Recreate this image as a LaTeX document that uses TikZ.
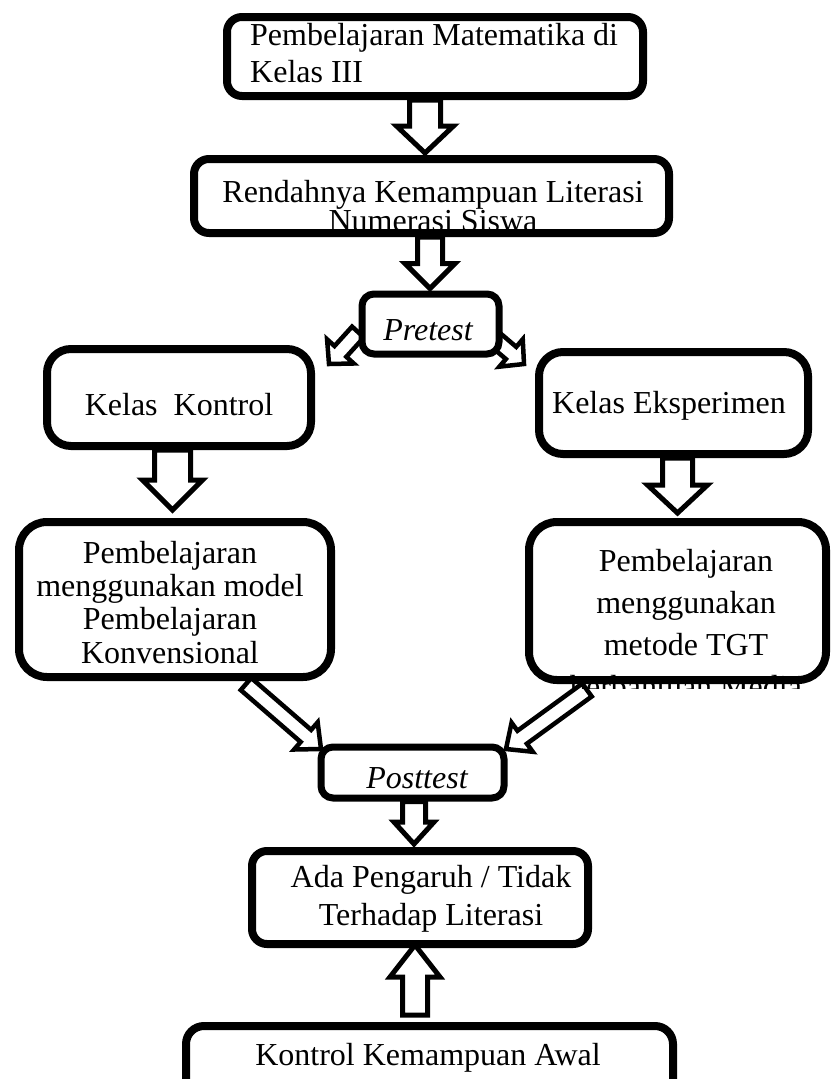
\documentclass[tikz,border=0pt]{standalone}
\usepackage{fontspec}
\setmainfont{Liberation Serif}
\usetikzlibrary{calc,backgrounds}

% block arrow: [style]{tail}{tip}{shaft half}{head half}{head length}
\newcommand{\fatarrow}[6][fat]{%
  \coordinate (fa-b) at ($(#3)!#6pt!(#2)$);
  \draw[#1] ($(#2)!#4pt!90:(#3)$) -- ($(fa-b)!#4pt!90:(#3)$)
    -- ($(fa-b)!#5pt!90:(#3)$) -- (#3) -- ($(fa-b)!#5pt!-90:(#3)$)
    -- ($(fa-b)!#4pt!-90:(#3)$) -- ($(#2)!#4pt!-90:(#3)$) -- cycle;
}

\tikzset{
  box/.style={draw, line width=8pt, fill=white, rounded corners=15pt, inner sep=0pt},
  bigbox/.style={box, rounded corners=28pt},
  smallbox/.style={box, line width=7pt, rounded corners=12pt},
  txt/.style={inner sep=0pt, align=center, font=\fontsize{32}{37}\selectfont},
  fat/.style={draw, line width=5pt, fill=white, line join=miter},
  thinfat/.style={fat, line width=4.5pt}
}

\begin{document}
\begin{tikzpicture}[x=1pt, y=-1pt]
\useasboundingbox (0,0) rectangle (832,1079);

% boxes
\node[box, minimum width=416pt, minimum height=79pt] (b1) at (435,56.5) {};
\node[box, minimum width=475pt, minimum height=74pt] (b2) at (431.5,196) {};
\node[smallbox, minimum width=137pt, minimum height=60pt] (pre) at (430.5,324) {};
\node[bigbox, rounded corners=24pt, minimum width=264pt, minimum height=97pt] (kk) at (179,397.5) {};
\node[bigbox, rounded corners=24pt, minimum width=269pt, minimum height=102pt] (ke) at (673.5,403) {};
\node[bigbox, minimum width=312pt, minimum height=155pt] (konv) at (175,599.5) {};
\node[bigbox, minimum width=297pt, minimum height=158pt] (tgt) at (677.5,601) {};
\node[smallbox, minimum width=183pt, minimum height=51pt] (post) at (412.5,772.5) {};
\node[box, minimum width=336pt, minimum height=93pt] (ada) at (420,897.5) {};
\node[box, rounded corners=18pt, minimum width=487pt, minimum height=80pt] (kab) at (429.5,1066) {};

% arrow ends
\coordinate (a1s) at ($(b1.south)+(-10,0)$);
\coordinate (a1e) at ($(b2.north)+(-6.5,-2)$);
\coordinate (a2s) at ($(b2.south)+(-1.5,0)$);
\coordinate (a2e) at ($(pre.north)+(-0.5,-2)$);
\coordinate (a3s) at (358,332);
\coordinate (a3e) at (329,364);
\coordinate (a4s) at (490,335);
\coordinate (a4e) at (524,364);
\coordinate (a5s) at ($(kk.south)+(-6.5,0)$);
\coordinate (a5e) at ($(konv.north)+(-2.5,-8)$);
\coordinate (a6s) at ($(ke.south)+(4,0)$);
\coordinate (a6e) at ($(tgt.north)+(0,-5)$);
\coordinate (a7s) at (246,684);
\coordinate (a7e) at (321,749);
\coordinate (a8s) at (587,690);
\coordinate (a8e) at (506,749);
\coordinate (a9s) at ($(post.south)+(1.5,0)$);
\coordinate (a9e) at ($(ada.north)+(-6,-3)$);
\coordinate (a10s) at (415,1015);
\coordinate (a10e) at ($(ada.south)+(-5,-3)$);

\begin{pgfonlayer}{background}
\fatarrow{a1s}{a1e}{15.5}{28.5}{27}
\fatarrow{a2s}{a2e}{12.5}{25}{25}
\fatarrow[thinfat]{a3s}{a3e}{8}{18}{17}
\fatarrow[thinfat]{a4s}{a4e}{8}{18}{17}
\fatarrow{a5s}{a5e}{18}{30}{30}
\fatarrow{a6s}{a6e}{15}{30}{28}
\fatarrow[thinfat]{a7s}{a7e}{8}{18}{20}
\fatarrow[thinfat]{a8s}{a8e}{8}{18}{20}
\fatarrow{a9s}{a9e}{11.5}{20}{22}
\fatarrow{a10s}{a10e}{12.5}{25}{32}
\end{pgfonlayer}

% texts (base = last line)
\node[txt, anchor=base west, align=left] (t1) at (250,82) {Pembelajaran Matematika di\\Kelas III};
\begin{scope}
  \clip (180,150) rectangle (680,231);
  \node[txt, anchor=base, font=\fontsize{32}{29}\selectfont] (t2) at (433,231) {Rendahnya Kemampuan Literasi\\Numerasi Siswa};
\end{scope}
\node[txt, anchor=base, font=\fontsize{32}{37}\selectfont\itshape] (t3) at (428,340) {Pretest};
\node[txt, anchor=base] (t4) at (179,415) {Kelas\ \ Kontrol};
\node[txt, anchor=base] (t5) at (669,413) {Kelas Eksperimen};
\node[txt, anchor=base, font=\fontsize{32}{33.3}\selectfont] (t6) at (170,663) {Pembelajaran\\menggunakan model\\Pembelajaran\\Konvensional};
\node[txt, anchor=base, font=\fontsize{32}{42}\selectfont] (t7) at (686,655) {Pembelajaran\\menggunakan\\metode TGT};
\begin{scope}
  \clip (500,660) rectangle (832,688);
  \node[txt, anchor=base] (t8) at (686,697) {berbantuan Media};
\end{scope}
\node[txt, anchor=base, font=\fontsize{32}{37}\selectfont\itshape] (t9) at (417,788) {Posttest};
\node[txt, anchor=base, font=\fontsize{32}{38}\selectfont] (t10) at (431,925) {Ada Pengaruh / Tidak\\Terhadap Literasi};
\node[txt, anchor=base] (t11) at (428,1065) {Kontrol Kemampuan Awal};
\end{tikzpicture}
\end{document}
